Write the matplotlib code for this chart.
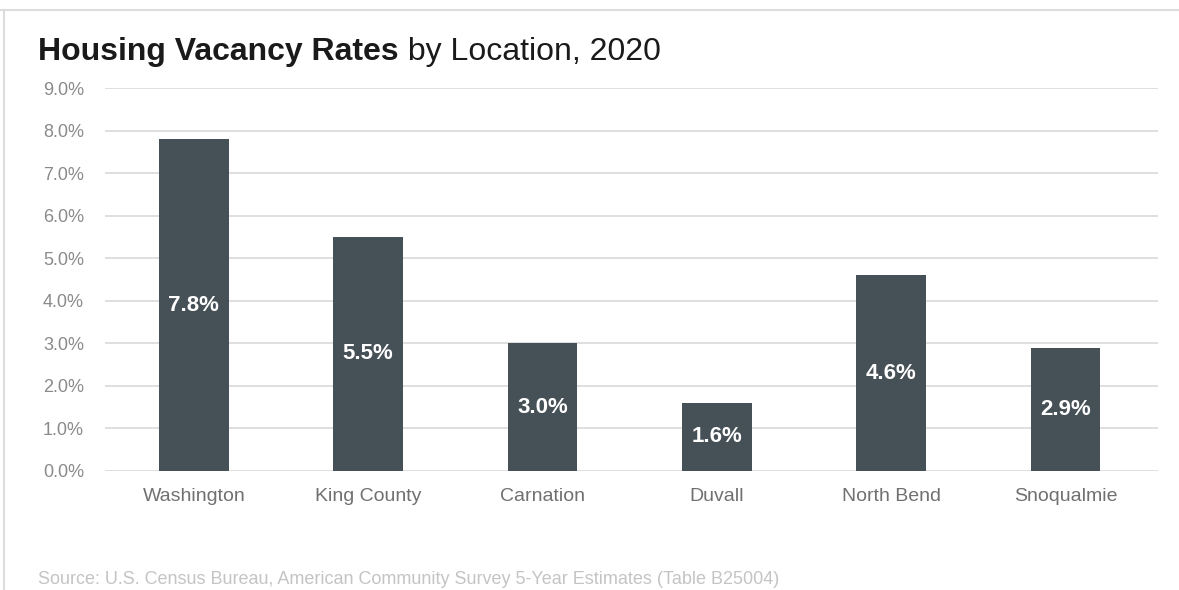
import matplotlib
matplotlib.use("Agg")
import matplotlib.pyplot as plt
from matplotlib.lines import Line2D

categories = ["Washington", "King County", "Carnation", "Duvall", "North Bend", "Snoqualmie"]
values = [7.8, 5.5, 3.0, 1.6, 4.6, 2.9]
yticks = [0, 1, 2, 3, 4, 5, 6, 7, 8, 9]
ytick_labels = ["0.0%", "1.0%", "2.0%", "3.0%", "4.0%", "5.0%", "6.0%", "7.0%", "8.0%", "9.0%"]
title_bold = "Housing Vacancy Rates"
title_rest = " by Location, 2020"
source = "Source: U.S. Census Bureau, American Community Survey 5-Year Estimates (Table B25004)"

plt.rcParams['font.family'] = ["Liberation Sans", "DejaVu Sans"]

fig = plt.figure(figsize=(11.79, 5.90), dpi=100)
fig.patch.set_facecolor("white")
ax = fig.add_axes([0.089, 0.2017, 0.893, 0.6491])

bar_color = "#465057"
x = range(len(categories))
ax.bar(x, values, width=0.40, color=bar_color, zorder=3)
for xi, v in zip(x, values):
    ax.text(xi, v / 2, f"{v:.1f}%", ha="center", va="center", color="white",
            fontsize=16, fontweight="bold", zorder=4)

ax.set_xlim(-0.51, 5.53)
ax.set_ylim(0, 9)
ax.set_yticks(yticks)
ax.set_yticklabels(ytick_labels)
ax.set_xticks(list(x))
ax.set_xticklabels(categories)
ax.tick_params(axis="y", length=0, pad=15, labelsize=13, labelcolor="#8a8a8a")
ax.tick_params(axis="x", length=0, pad=12, labelsize=14, labelcolor="#707070")
ax.grid(axis="y", color="#d9d9d9", linewidth=1.2, zorder=0)
for s in ax.spines.values():
    s.set_visible(False)

# frame lines
fig.add_artist(Line2D([0.0, 1.0], [1 - 10 / 590, 1 - 10 / 590], transform=fig.transFigure,
                      color="#dcdcdc", linewidth=1.5))
fig.add_artist(Line2D([4 / 1179, 4 / 1179], [0, 1 - 10 / 590], transform=fig.transFigure,
                      color="#dcdcdc", linewidth=1.5))

t1 = fig.text(38 / 1179, 1 - 60 / 590, title_bold, fontsize=23, fontweight="bold",
              color="#1a1a1a", ha="left", va="baseline")
fig.canvas.draw()
bb = t1.get_window_extent(renderer=fig.canvas.get_renderer())
fig.text(bb.x1 / fig.bbox.width, 1 - 60 / 590, title_rest, fontsize=23,
         color="#1a1a1a", ha="left", va="baseline")

fig.text(38 / 1179, 1 - 584 / 590, source, fontsize=13, color="#c4c4c4",
         ha="left", va="baseline")

fig.savefig("out.png", dpi=100, facecolor="white")
